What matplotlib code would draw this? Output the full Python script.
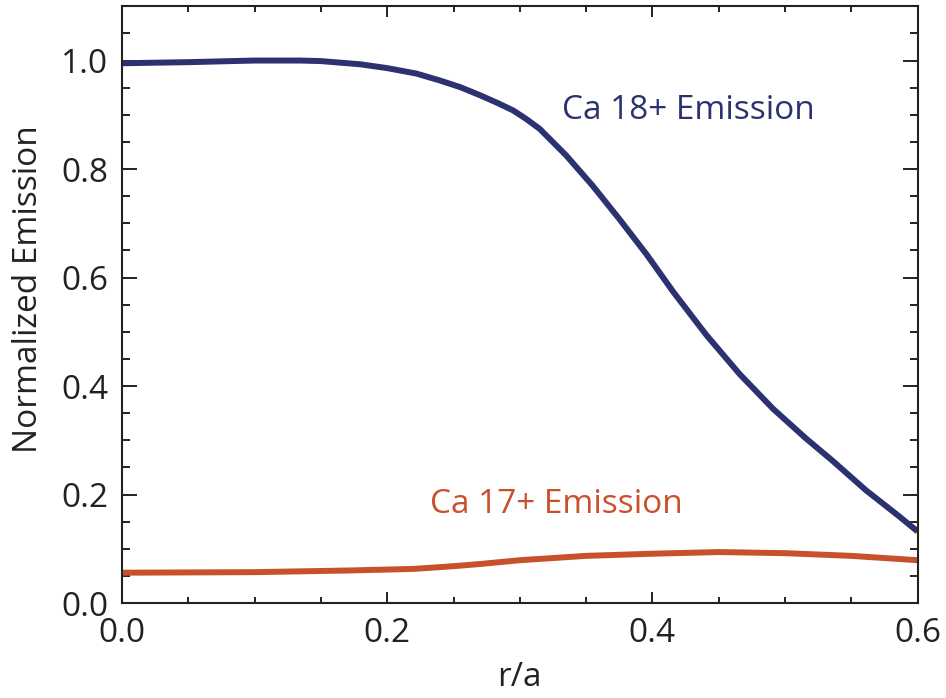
import numpy as np
import matplotlib
matplotlib.use("Agg")
import matplotlib.pyplot as plt
from matplotlib.ticker import MultipleLocator

plt.rcParams['font.family'] = ['Open Sans', 'DejaVu Sans']

# radial profiles read along r/a
r_ca18 = [0.0, 0.05, 0.10, 0.134, 0.15, 0.18, 0.20, 0.222, 0.24, 0.255, 0.27,
          0.283, 0.295, 0.305, 0.315, 0.335, 0.355, 0.375, 0.3955, 0.4156,
          0.4407, 0.4658, 0.491, 0.516, 0.536, 0.561, 0.586, 0.60]
em_ca18 = [0.995, 0.997, 1.0, 1.0, 0.999, 0.993, 0.986, 0.976, 0.963, 0.951,
           0.936, 0.922, 0.908, 0.892, 0.874, 0.825, 0.769, 0.708, 0.643,
           0.574, 0.494, 0.422, 0.358, 0.303, 0.262, 0.208, 0.160, 0.132]

r_ca17 = [0.0, 0.10, 0.17, 0.22, 0.25, 0.27, 0.30, 0.35, 0.40, 0.45, 0.50,
          0.55, 0.60]
em_ca17 = [0.056, 0.057, 0.060, 0.063, 0.068, 0.072, 0.079, 0.087, 0.091,
           0.094, 0.092, 0.087, 0.079]

navy = '#2c3270'
orange = '#c8502a'
ink = '#222222'

fig = plt.figure(figsize=(9.46, 6.98), dpi=100)
ax = fig.add_axes([0.129, 0.136, 0.841, 0.855])

ax.plot(r_ca18, em_ca18, color=navy, linewidth=4.3, solid_capstyle='butt',
        solid_joinstyle='round')
ax.plot(r_ca17, em_ca17, color=orange, linewidth=4.3, solid_capstyle='butt',
        solid_joinstyle='round')

ax.text(0.332, 0.907, 'Ca 18+ Emission', color=navy, fontsize=24,
        ha='left', va='center')
ax.text(0.232, 0.181, 'Ca 17+ Emission', color=orange, fontsize=24,
        ha='left', va='center')

ax.set_xlim(0, 0.6)
ax.set_ylim(0, 1.1)
ax.xaxis.set_major_locator(MultipleLocator(0.2))
ax.xaxis.set_minor_locator(MultipleLocator(0.05))
ax.yaxis.set_major_locator(MultipleLocator(0.2))
ax.yaxis.set_minor_locator(MultipleLocator(0.05))
ax.xaxis.set_major_formatter(lambda v, p: f'{v:.1f}')
ax.yaxis.set_major_formatter(lambda v, p: f'{v:.1f}')

ax.tick_params(axis='both', which='both', direction='in', top=True,
               right=True, width=1.4, labelsize=24, color=ink,
               labelcolor=ink)
ax.tick_params(axis='y', which='major', length=10.8, pad=10)
ax.tick_params(axis='y', which='minor', length=5.8)
ax.tick_params(axis='x', which='major', length=8, pad=10)
ax.tick_params(axis='x', which='minor', length=4)

for s in ax.spines.values():
    s.set_linewidth(1.5)
    s.set_color(ink)

ax.set_xlabel('r/a', fontsize=24, color=ink, labelpad=8)
ax.set_ylabel('Normalized Emission', fontsize=24, color=ink)
ax.yaxis.set_label_coords(-0.097, 0.526)

fig.savefig('out.png', dpi=100)
